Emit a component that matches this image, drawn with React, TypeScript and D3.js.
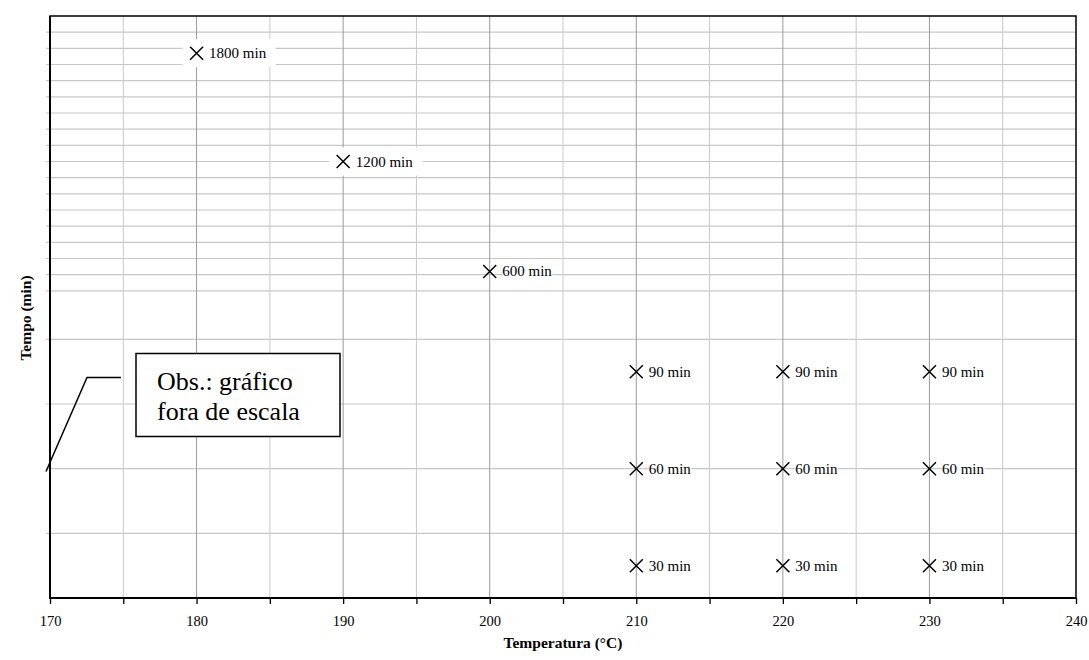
import React, { useEffect, useRef } from "react";
import * as d3 from "d3";

// points (temperature, real time label, out-of-scale plot position)
const temperatures = [180, 190, 200, 210, 220, 230, 210, 220, 230, 210, 220, 230];
const times = [1800, 1200, 600, 90, 90, 90, 60, 60, 60, 30, 30, 30];
const plotPositions = [168.5, 135, 101, 70, 70, 70, 40, 40, 40, 10, 10, 10];

// gridlines are drawn at irregular positions (chart is out of scale)
const hGrid = [20, 40, 60, 80, 95, 100, 105, 110, 115, 120, 125, 130, 135, 140, 145, 150, 155, 160, 165, 170, 175];
const xMajor = [170, 180, 190, 200, 210, 220, 230, 240];
const xMinor = [175, 185, 195, 205, 215, 225, 235];

const note = ["Obs.: gráfico", "fora de escala"];

const width = 1089;
const height = 660;

export default function App() {
  const ref = useRef<SVGSVGElement | null>(null);

  useEffect(() => {
    const svg = d3.select(ref.current);
    svg.selectAll("*").remove();

    const x = d3.scaleLinear().domain([170, 240]).range([50, 1076]);
    const y = d3.scaleLinear().domain([0, 180]).range([598, 16]);
    const font = "'Liberation Serif', 'Times New Roman', serif";

    svg.append("rect").attr("width", width).attr("height", height).attr("fill", "#fff");

    // horizontal gridlines
    svg.append("g")
      .selectAll("line")
      .data(hGrid)
      .enter()
      .append("line")
      .attr("x1", 46)
      .attr("x2", 1076)
      .attr("y1", (d) => y(d))
      .attr("y2", (d) => y(d))
      .attr("stroke", "#c8c8c8")
      .attr("stroke-width", 1.2);

    // vertical gridlines
    svg.append("g")
      .selectAll("line")
      .data(xMinor)
      .enter()
      .append("line")
      .attr("x1", (d) => x(d))
      .attr("x2", (d) => x(d))
      .attr("y1", 16)
      .attr("y2", 598)
      .attr("stroke", "#c8c8c8")
      .attr("stroke-width", 1);

    svg.append("g")
      .selectAll("line")
      .data(xMajor.slice(1, -1))
      .enter()
      .append("line")
      .attr("x1", (d) => x(d))
      .attr("x2", (d) => x(d))
      .attr("y1", 16)
      .attr("y2", 598)
      .attr("stroke", "#9a9a9a")
      .attr("stroke-width", 1);

    // plot border
    svg.append("rect")
      .attr("x", 50)
      .attr("y", 16)
      .attr("width", 1076 - 50)
      .attr("height", 598 - 16)
      .attr("fill", "none")
      .attr("stroke", "#000")
      .attr("stroke-width", 1.5);
    svg.append("line")
      .attr("x1", 50).attr("x2", 50)
      .attr("y1", 16).attr("y2", 599)
      .attr("stroke", "#000").attr("stroke-width", 2);

    // bottom axis
    const xAxis = d3.axisBottom(x)
      .tickValues([...xMajor, ...xMinor])
      .tickSize(6)
      .tickFormat((d) => (xMajor.includes(+d) ? String(d) : ""));
    const gx = svg.append("g")
      .attr("transform", "translate(0,598)")
      .call(xAxis);
    gx.select(".domain").attr("stroke", "#000").attr("stroke-width", 2).attr("d", "M50,0H1076");
    gx.selectAll(".tick line").attr("stroke", "#000").attr("stroke-width", 1.3);
    gx.selectAll(".tick text")
      .attr("y", 23)
      .attr("dy", "0.32em")
      .attr("font-family", font)
      .attr("font-size", 14.5)
      .attr("fill", "#000");

    // labels behind markers
    const labels = svg.append("g")
      .selectAll("g")
      .data(temperatures.map((t, i) => i))
      .enter()
      .append("g")
      .attr("transform", (i) => `translate(${x(temperatures[i])},${y(plotPositions[i])})`);

    const bg = labels.append("rect").attr("fill", "#fff");
    const txt = labels.append("text")
      .text((i) => `${times[i]} min`)
      .attr("x", 12.5)
      .attr("y", 5)
      .attr("font-family", font)
      .attr("font-size", 15)
      .attr("fill", "#000");

    txt.each(function (i) {
      const bb = (this as SVGTextElement).getBBox();
      const wide = times[i] >= 1200;
      const r = d3.select((this as SVGTextElement).parentNode as SVGGElement).select("rect");
      if (wide) {
        r.attr("x", -14).attr("y", -14).attr("width", bb.x + bb.width + 9 + 14).attr("height", 28);
      } else {
        r.attr("x", bb.x).attr("y", bb.y + 2).attr("width", bb.width).attr("height", bb.height - 4);
      }
    });
    void bg;

    // X markers
    const m = 6.5;
    labels.append("path")
      .attr("d", `M${-m},${-m}L${m},${m}M${-m},${m}L${m},${-m}`)
      .attr("stroke", "#000")
      .attr("stroke-width", 1.5)
      .attr("fill", "none");

    // axis titles
    svg.append("text")
      .text("Temperatura (°C)")
      .attr("x", 563)
      .attr("y", 648)
      .attr("text-anchor", "middle")
      .attr("font-family", font)
      .attr("font-weight", "bold")
      .attr("font-size", 15.5)
      .attr("fill", "#000");

    svg.append("text")
      .text("Tempo (min)")
      .attr("transform", "translate(31,318) rotate(-90)")
      .attr("text-anchor", "middle")
      .attr("font-family", font)
      .attr("font-weight", "bold")
      .attr("font-size", 15.5)
      .attr("fill", "#000");

    // out-of-scale note
    svg.append("path")
      .attr("d", "M46,471.5L87,377.5L121,377.5")
      .attr("fill", "none")
      .attr("stroke", "#000")
      .attr("stroke-width", 1.5);

    svg.append("rect")
      .attr("x", 136)
      .attr("y", 353.5)
      .attr("width", 204)
      .attr("height", 83)
      .attr("fill", "#fff")
      .attr("stroke", "#000")
      .attr("stroke-width", 1.5);

    svg.append("g")
      .selectAll("text")
      .data(note)
      .enter()
      .append("text")
      .text((d) => d)
      .attr("x", 157)
      .attr("y", (d, i) => 390 + i * 30)
      .attr("font-family", font)
      .attr("font-size", 26)
      .attr("fill", "#000");
  }, []);

  return (
    <svg
      ref={ref}
      width={width}
      height={height}
      style={{ position: "absolute", left: 0, top: 0, display: "block" }}
    />
  );
}
